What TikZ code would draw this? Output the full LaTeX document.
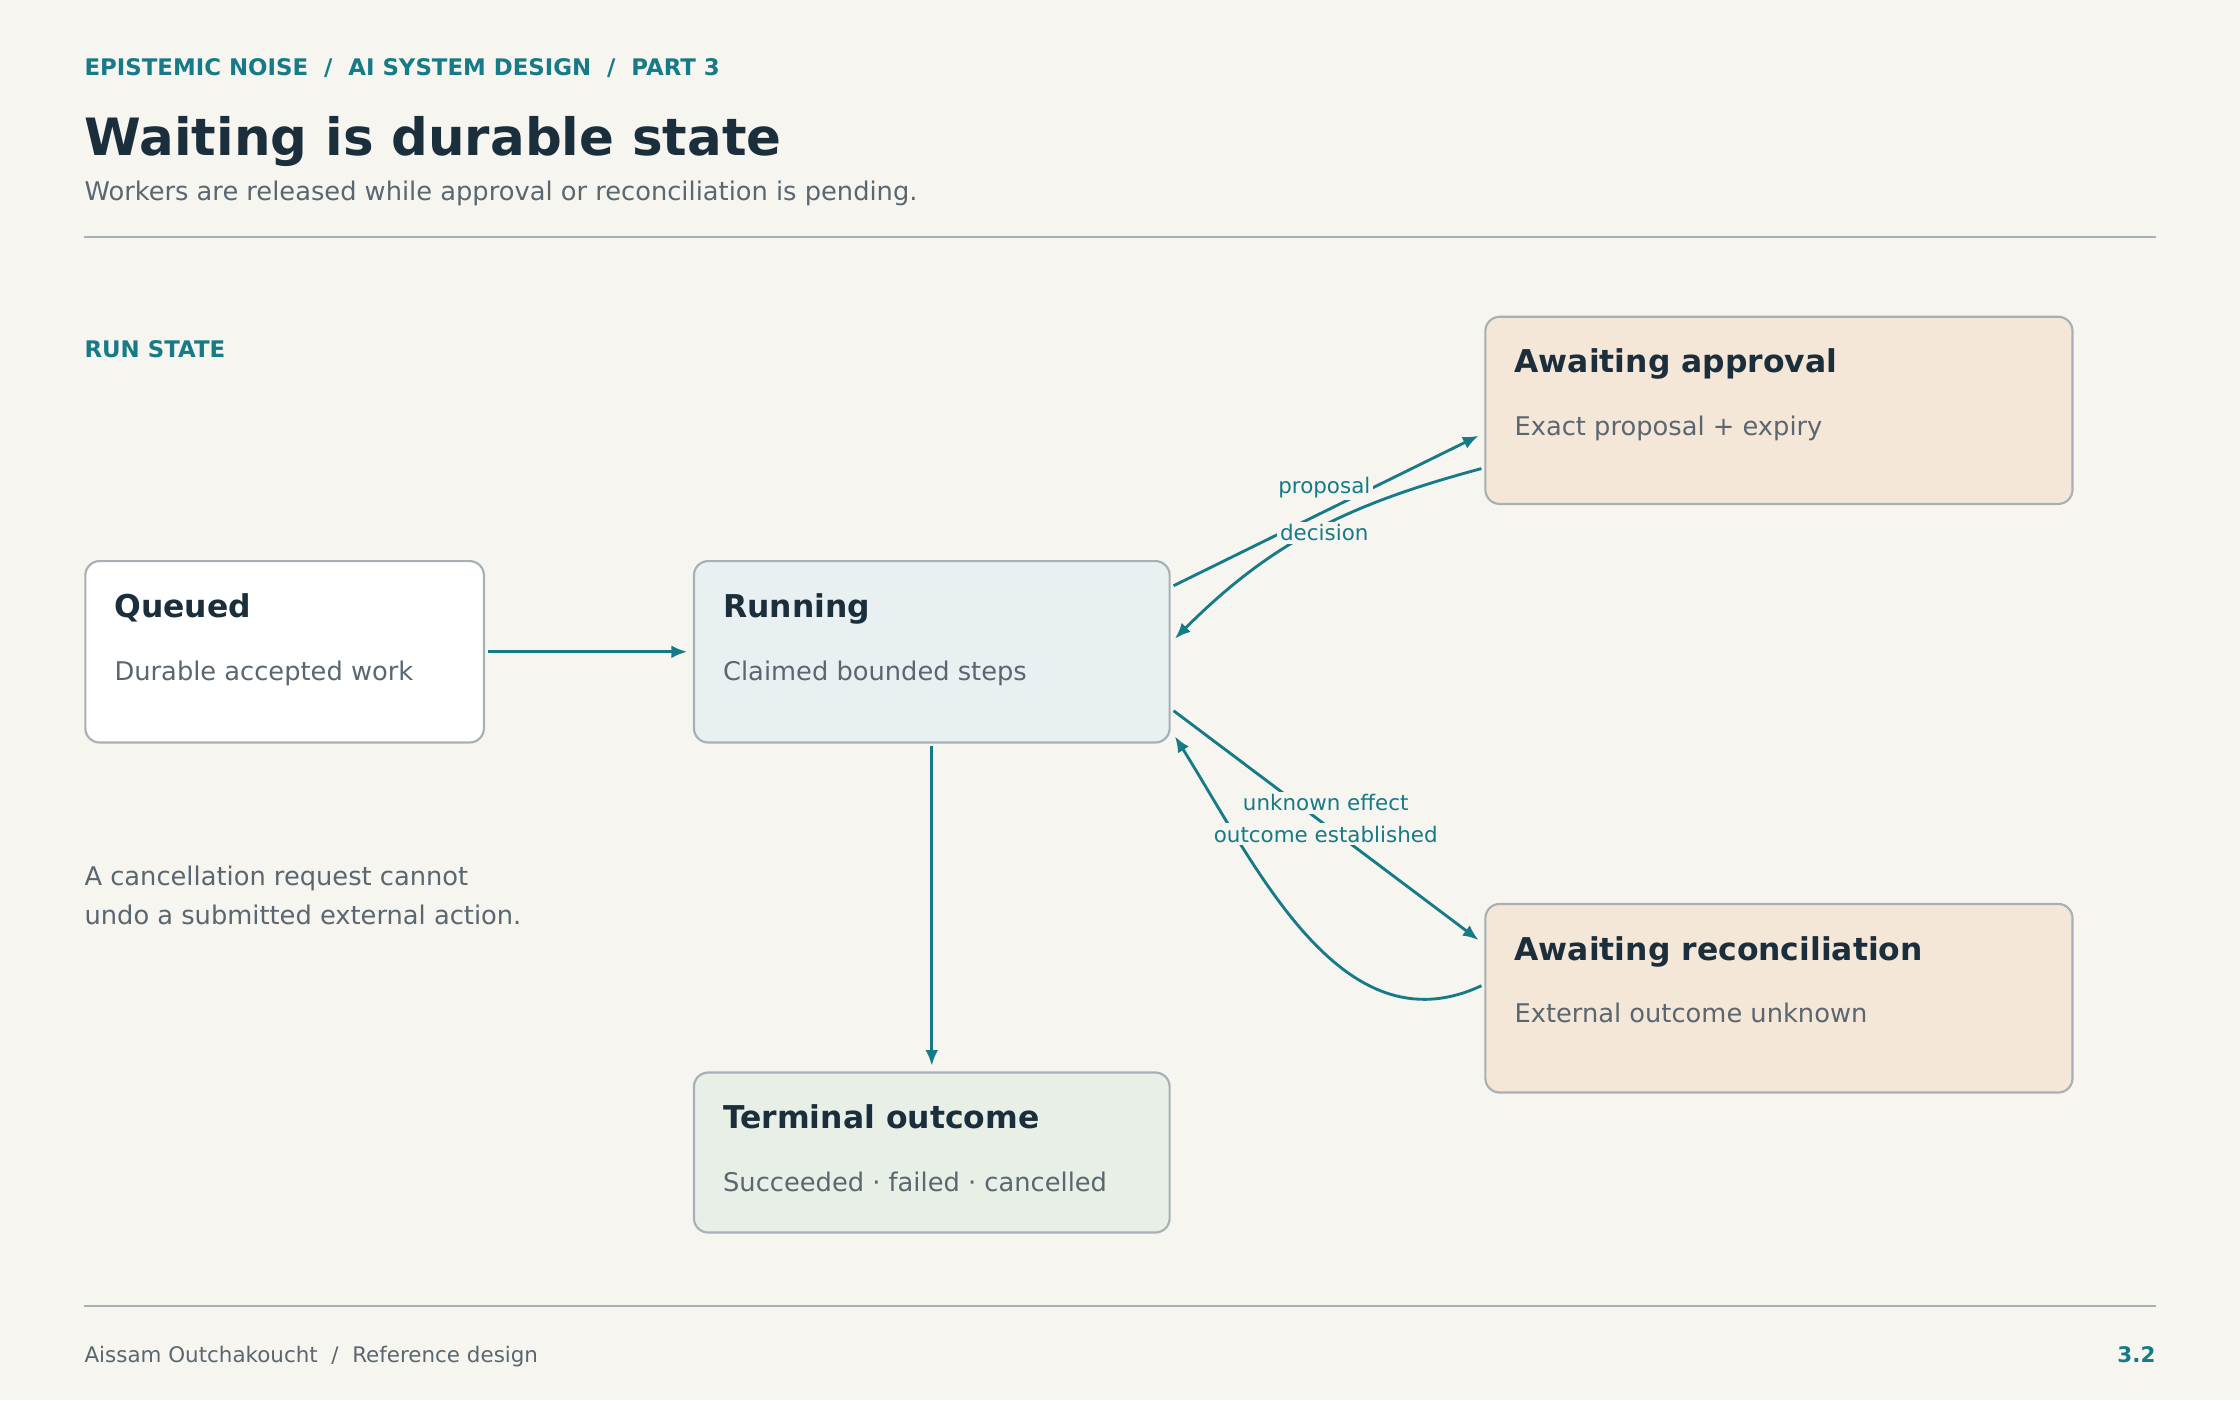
\documentclass[tikz,border=0pt]{standalone}
\usepackage{fontspec}
\setmainfont{DejaVu Sans}
\usetikzlibrary{positioning,arrows.meta}
\definecolor{bgc}{HTML}{F6F5F0}
\definecolor{teal}{HTML}{167A87}
\definecolor{ink}{HTML}{1B2E3C}
\definecolor{mute}{HTML}{5A6670}
\definecolor{edge}{HTML}{A8B0B5}
\definecolor{runc}{HTML}{E8F0F2}
\definecolor{waitc}{HTML}{F5E7D8}
\definecolor{donec}{HTML}{E8EFE7}
\tikzset{
  box/.style={draw=edge, line width=1.5pt, rounded corners=10pt, anchor=north west, inner sep=0pt},
  ttl/.style={anchor=base west, inner sep=0pt, font=\fontsize{22}{26}\selectfont\bfseries, text=ink},
  sub/.style={anchor=base west, inner sep=0pt, font=\fontsize{18}{22}\selectfont, text=mute},
  flow/.style={draw=teal, line width=2pt, -{Latex[length=11pt,width=9pt]}},
  lbl/.style={fill=bgc, inner sep=2pt, text=teal, font=\fontsize{15}{18}\selectfont},
}
\begin{document}
\begin{tikzpicture}[x=1pt,y=-1pt]
\fill[bgc] (0,0) rectangle (1568,980);
\useasboundingbox (0,0) rectangle (1568,980);

% header
\node[anchor=base west, inner sep=0pt, text=teal, font=\fontsize{16}{19}\selectfont\bfseries] (kicker) at (59,53) {EPISTEMIC NOISE~ /~ AI SYSTEM DESIGN~ /~ PART 3};
\node[anchor=base west, inner sep=0pt, text=ink, font=\fontsize{36}{42}\selectfont\bfseries] (title) at (59,109) {Waiting is durable state};
\node[anchor=base west, inner sep=0pt, text=mute, font=\fontsize{18}{22}\selectfont] (subtitle) at (59,140) {Workers are released while approval or reconciliation is pending.};
\draw[edge, line width=1.2pt] (59,166) -- (1509,166);
\node[anchor=base west, inner sep=0pt, text=teal, font=\fontsize{16}{19}\selectfont\bfseries] (section) at (59,250) {RUN STATE};

% states
\node[box, fill=white, minimum width=279pt, minimum height=127pt] (queued) at (59,392) {};
\node[box, fill=runc, minimum width=333pt, minimum height=127pt] (running) at (485,392) {};
\node[box, fill=waitc, minimum width=411pt, minimum height=131pt] (approval) at (1039,221) {};
\node[box, fill=waitc, minimum width=411pt, minimum height=132pt] (recon) at (1039,632) {};
\node[box, fill=donec, minimum width=333pt, minimum height=112pt] (terminal) at (485,750) {};

\foreach \n/\t/\s in {queued/Queued/Durable accepted work,
                      running/Running/Claimed bounded steps,
                      approval/Awaiting approval/Exact proposal + expiry,
                      recon/Awaiting reconciliation/External outcome unknown,
                      terminal/Terminal outcome/Succeeded · failed · cancelled}{
  \node[ttl] (\n-t) at ([xshift=21pt,yshift=-40pt]\n.north west) {\t};
  \node[sub] (\n-s) at ([xshift=21pt,yshift=-84pt]\n.north west) {\s};
}

% transitions
\draw[flow] ([xshift=2pt]queued.east) -- ([xshift=-4pt]running.west);
\draw[flow] ([yshift=-2pt]running.south) -- ([yshift=4pt]terminal.north);
\draw[flow] ([xshift=2pt,yshift=-18pt]running.north east) -- ([xshift=-4pt,yshift=-84pt]approval.north west);
\draw[flow] ([xshift=-2pt,yshift=-107pt]approval.north west) to[out=195, in=45] ([xshift=3pt,yshift=-55pt]running.north east);
\draw[flow] ([xshift=2pt,yshift=23pt]running.south east) -- ([xshift=-4pt,yshift=-26pt]recon.north west);
\draw[flow] ([xshift=-2pt,yshift=-58pt]recon.north west) to[out=205, in=-58] ([xshift=3pt,yshift=5pt]running.south east);

\node[lbl] (l-prop) at (927,341) {proposal};
\node[lbl] (l-dec) at (927,373) {decision};
\node[lbl] (l-unk) at (928,562) {unknown effect};
\node[lbl] (l-out) at (928,584) {outcome established};

% note
\node[anchor=north west, inner sep=0pt, text=mute, align=left, font=\fontsize{18}{27}\selectfont] (note) at (59,606) {A cancellation request cannot\\undo a submitted external action.};

% footer
\draw[edge, line width=1.2pt] (59,914) -- (1509,914);
\node[anchor=base west, inner sep=0pt, text=mute, font=\fontsize{15}{18}\selectfont] (foot) at (59,954) {Aissam Outchakoucht~ /~ Reference design};
\node[anchor=base east, inner sep=0pt, text=teal, font=\fontsize{15}{18}\selectfont\bfseries] (page) at (1509,954) {3.2};
\end{tikzpicture}
\end{document}
